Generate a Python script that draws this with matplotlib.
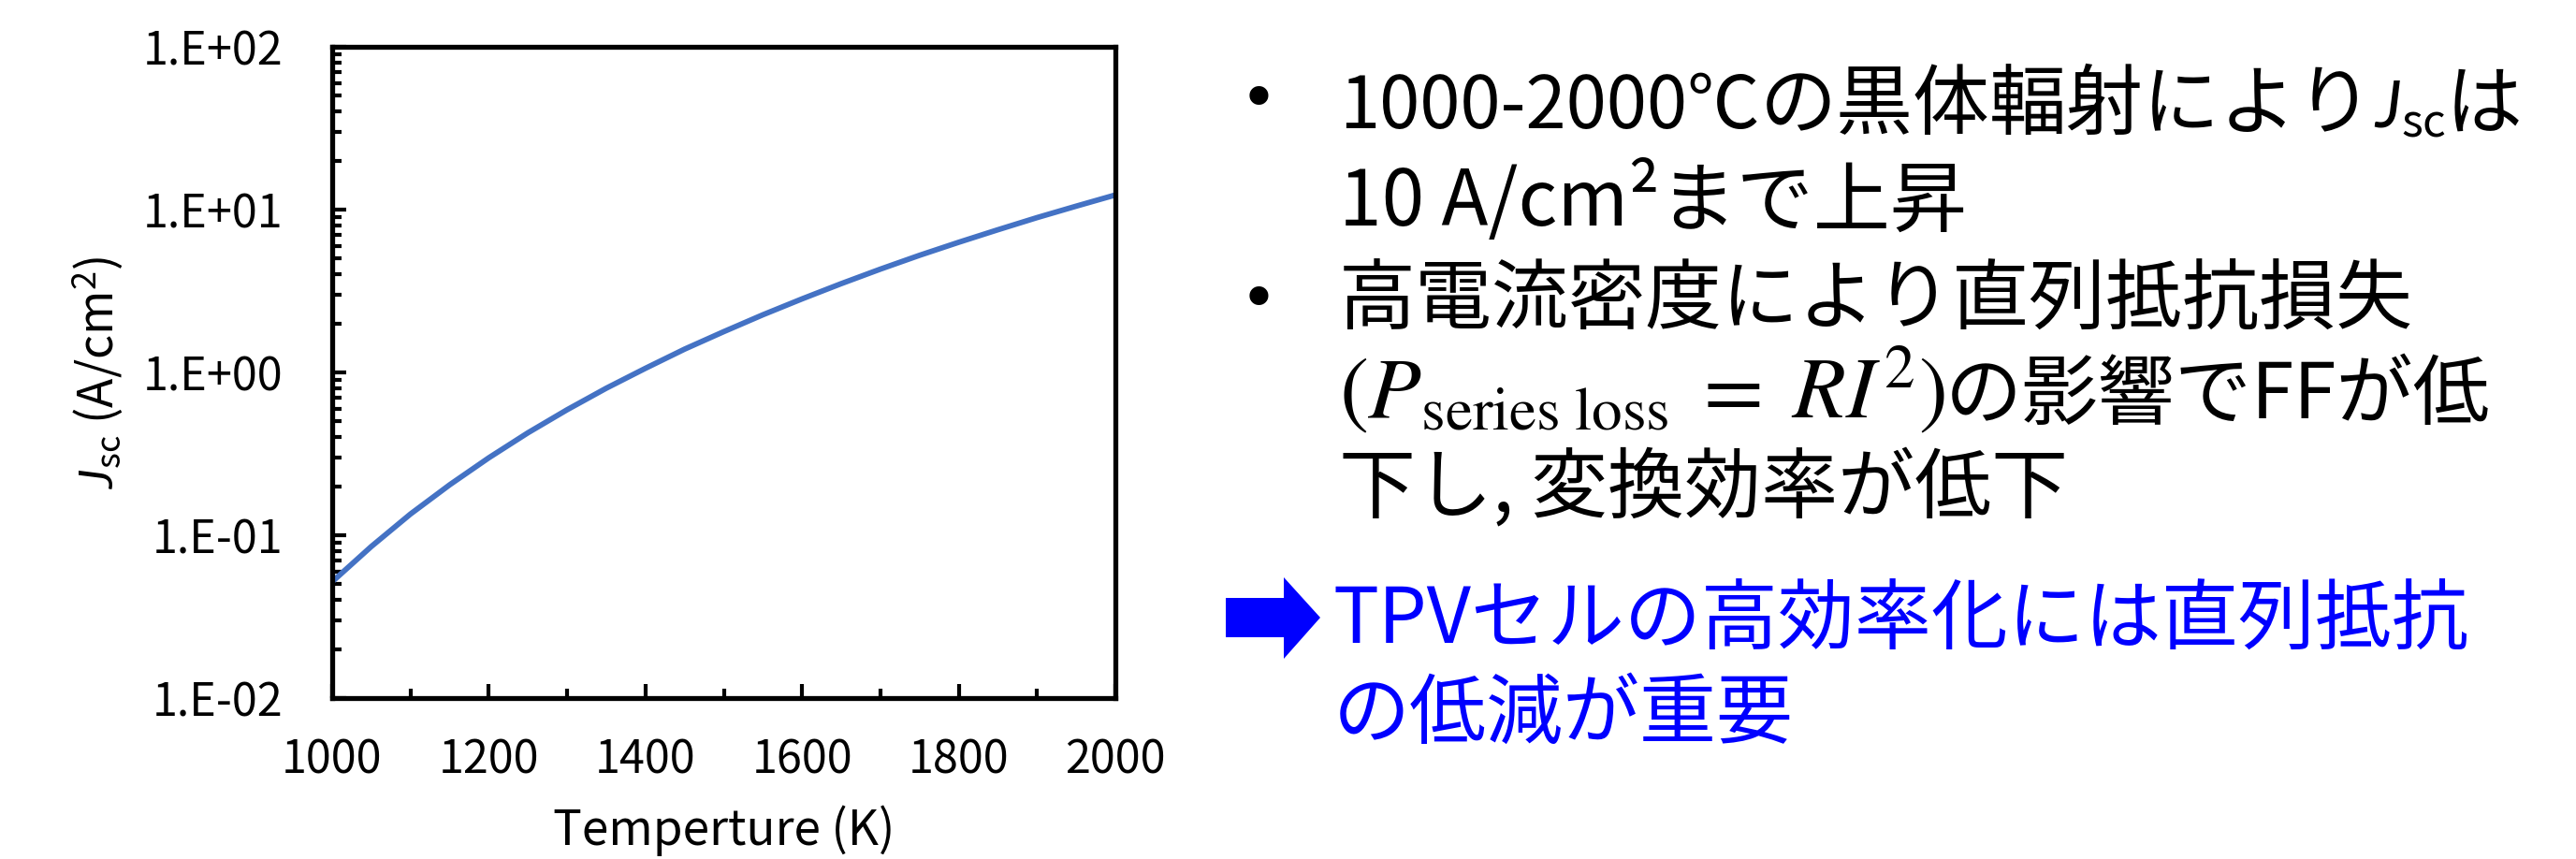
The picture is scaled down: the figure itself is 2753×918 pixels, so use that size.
import matplotlib
matplotlib.use("Agg")
import matplotlib.pyplot as plt
from matplotlib.patches import Polygon
from matplotlib.ticker import LogLocator, FuncFormatter, MultipleLocator, NullFormatter
import numpy as np

W, H = 2753, 918

# Short-circuit current density vs. emitter temperature
temperature_k = [1000, 1050, 1100, 1150, 1200, 1250, 1300, 1350, 1400, 1450, 1500,
                 1550, 1600, 1650, 1700, 1750, 1800, 1850, 1900, 1950, 2000]
jsc_a_cm2 = [0.0518, 0.0853, 0.135, 0.204, 0.299, 0.426, 0.590, 0.800, 1.06, 1.39, 1.78,
             2.26, 2.83, 3.51, 4.31, 5.24, 6.30, 7.52, 8.93, 10.5, 12.3]

x_major = [1000, 1200, 1400, 1600, 1800, 2000]
y_major = [1e-2, 1e-1, 1e0, 1e1, 1e2]

bullet_lines = [
    "1000-2000℃",
    "の黒体輻射により",
    "10 A/cm²まで上昇",
    "高電流密度により直列抵抗損失",
    "の影響でFFが低",
    "下し, 変換効率が低下",
]
conclusion_lines = ["TPVセルの高効率化には直列抵抗", "の低減が重要"]

JP = "Noto Sans CJK JP"
BLUE = "#0000FF"

plt.rcParams["mathtext.fontset"] = "custom"
plt.rcParams["mathtext.rm"] = JP
plt.rcParams["mathtext.it"] = "Lato:italic"
plt.rcParams["mathtext.bf"] = JP + ":bold"


def fx(x):
    return x / W


def fy(y):
    return 1 - y / H


fig = plt.figure(figsize=(W / 100, H / 100), dpi=100)
ax = fig.add_axes([fx(355), fy(746), (1192 - 355) / W, (746 - 50) / H])

ax.plot(temperature_k, jsc_a_cm2, color="#4472C4", lw=4.2, solid_capstyle="butt")
ax.set_yscale("log")
ax.set_xlim(1000, 2000)
ax.set_ylim(1e-2, 1e2)

ax.set_xticks(x_major)
ax.xaxis.set_minor_locator(MultipleLocator(100))
ax.set_yticks(y_major)
ax.yaxis.set_minor_locator(LogLocator(base=10, subs=np.arange(2, 10)))
ax.yaxis.set_minor_formatter(NullFormatter())
ax.yaxis.set_major_formatter(FuncFormatter(lambda v, p: f"1.E{int(round(np.log10(v))):+03d}"))

for s in ax.spines.values():
    s.set_linewidth(3.8)
ax.tick_params(which="both", direction="in", top=False, right=False, width=3)
ax.tick_params(which="major", length=11)
ax.tick_params(which="minor", length=7)
ax.tick_params(axis="y", which="major", pad=38)
ax.tick_params(axis="x", which="major", pad=30)
for lab in ax.get_xticklabels() + ax.get_yticklabels():
    lab.set_fontfamily(JP)
    lab.set_fontsize(35)

ax.set_xlabel("Temperture (K)", fontsize=37, family=JP, labelpad=17)
ax.set_ylabel(r"$J_{\mathrm{sc}}$ (A/cm$^{2}$)", fontsize=37, family=JP, labelpad=14)

renderer = fig.canvas.get_renderer()


def put_line(x, y, parts, color="black", size=59):
    # parts are laid out left to right on one baseline
    for s, kw in parts:
        opts = dict(family=JP, fontsize=size, color=color, va="baseline", ha="left")
        opts.update(kw)
        t = fig.text(fx(x), fy(y), s, **opts)
        x += t.get_window_extent(renderer=renderer).width


# bullets
for by in (109, 322):
    fig.text(fx(1345), fy(by), "•", family="DejaVu Sans", fontsize=50,
             ha="center", va="center")

put_line(1431, 137, [(bullet_lines[0], dict(fontsize=56)),
                     (bullet_lines[1], {}),
                     (r"$J_{\mathrm{sc}}$", dict(fontsize=50, math_fontfamily="custom")),
                     ("は", {})])
put_line(1431, 241, [(bullet_lines[2], {})])
put_line(1431, 346, [(bullet_lines[3], {})])
put_line(1431, 447, [(r"$(P_{\mathrm{series\ loss}}\;=\;RI^{2})$",
                      dict(fontsize=67, math_fontfamily="stix")),
                     (bullet_lines[4], {})])
put_line(1431, 546, [(bullet_lines[5], {})])

# blue arrow and conclusion
arrow = [(1310, 639), (1372, 639), (1372, 617), (1411, 660),
         (1372, 704), (1372, 681), (1310, 681)]
fig.patches.append(Polygon([(fx(a), fy(b)) for a, b in arrow], closed=True,
                           transform=fig.transFigure, facecolor=BLUE, edgecolor="none"))
put_line(1425, 688, [(conclusion_lines[0], {})], color=BLUE)
put_line(1425, 788, [(conclusion_lines[1], {})], color=BLUE)

fig.savefig("out.png", dpi=100, facecolor="white")
